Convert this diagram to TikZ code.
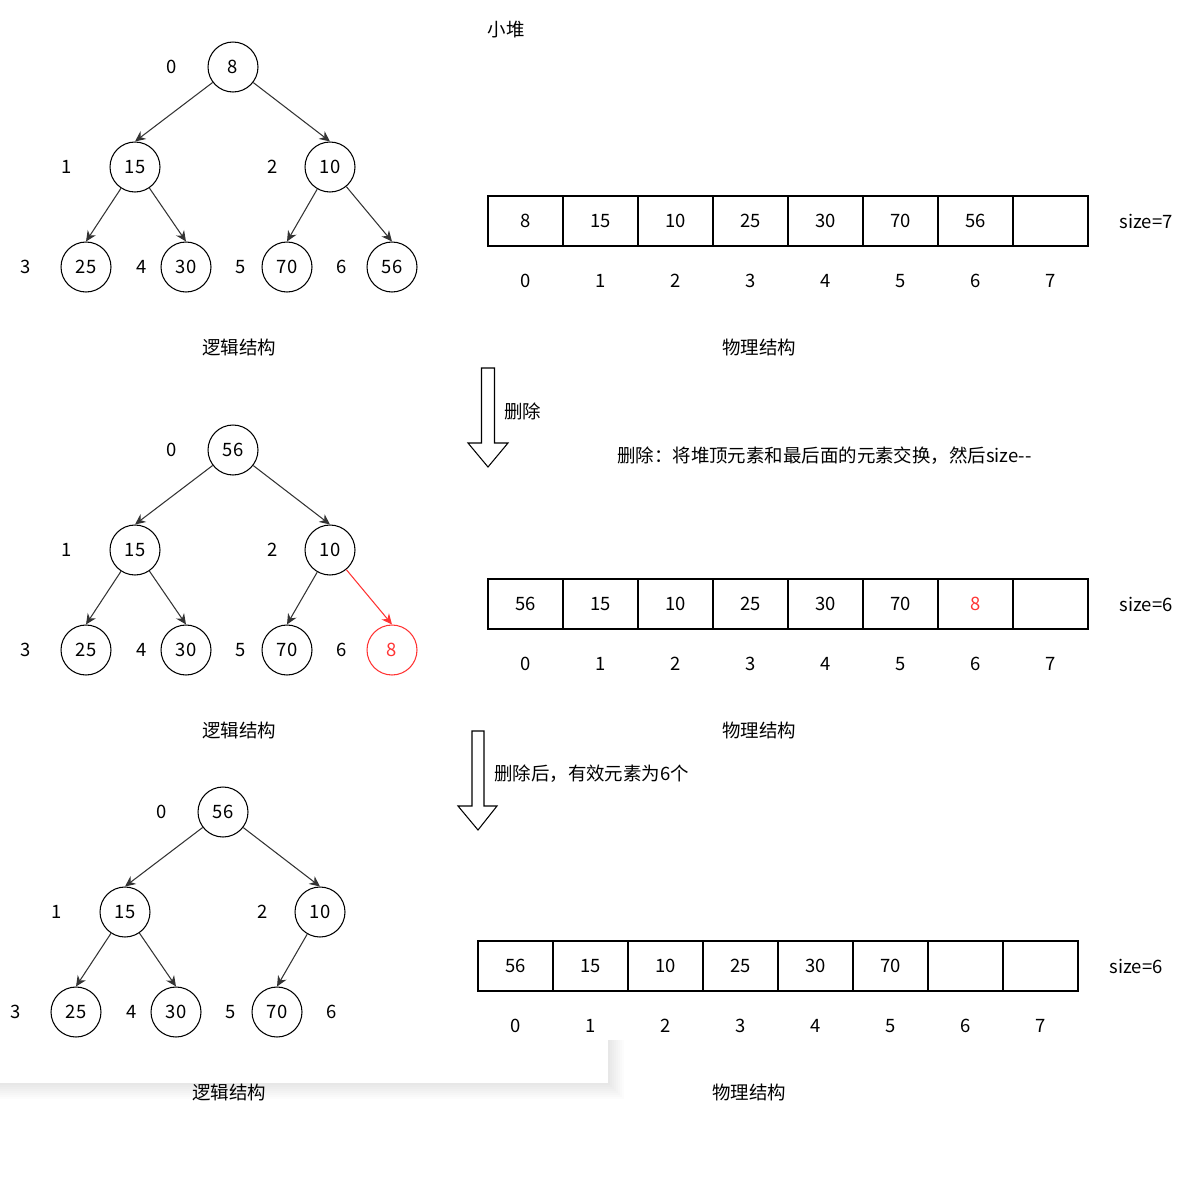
\documentclass[tikz,border=0pt]{standalone}
\usepackage{fontspec}
\setmainfont{Noto Sans CJK SC}
\usetikzlibrary{arrows.meta, positioning}
\definecolor{delred}{HTML}{FF3333}

\begin{document}
\begin{tikzpicture}[x=0.02cm, y=-0.02cm, font=\fontsize{10.5}{12}\selectfont,
    vertex/.style={circle, draw, line width=0.6pt, minimum size=1cm, inner sep=0pt},
    cell/.style={draw, line width=0.6pt, minimum width=1.5cm, minimum height=1cm, inner sep=0pt},
    edge/.style={draw=black!80, line width=0.6pt, -{Stealth[length=6pt, width=5.5pt]}},
    bigarrow/.style={draw, line width=0.6pt, fill=white}]
  \useasboundingbox (0,0) rectangle (1193,1204);

  % shadow of the pasted box, bottom left
  \foreach \k in {2,4,...,16}
    \fill[black, opacity=0.012] (0,1040) rectangle (608+\k,1083+\k);
  \fill[white] (0,990) rectangle (608,1083);

  \node (title) at (506,30) {小堆};

  % ---------- before ----------
  \node[vertex] (r) at (233,67) {8};
  \node[vertex] (a) at (135,167) {15};
  \node[vertex] (b) at (330,167) {10};
  \node[vertex] (c) at (86,267) {25};
  \node[vertex] (d) at (186,267) {30};
  \node[vertex] (e) at (287,267) {70};
  \node[vertex] (f) at (392,267) {56};
  \draw[edge] (r) -- (a.north); \draw[edge] (r) -- (b.north);
  \draw[edge] (a) -- (c.north); \draw[edge] (a) -- (d.north);
  \draw[edge] (b) -- (e.north); \draw[edge] (b) -- (f.north);
  \foreach \i/\x/\y in {0/172/67, 1/67/167, 2/273/167, 3/26/267, 4/142/267, 5/241/267, 6/342/267}
    \node (n\i) at (\x,\y) {\i};
  \node (logic1) at (239,347) {逻辑结构};

  \foreach \v [count=\i from 0] in {8,15,10,25,30,70,56,{}} {
    \node[cell] (p\i) at (525.5+75*\i,221) {\v};
    \node (pi\i) at (p\i) [yshift=-1.2cm] {\i};
  }
  \node (size1) at (1146,221) {size=7};
  \node (phys1) at (759,347) {物理结构};

  \draw[bigarrow] (481.5,368) -- (494.5,368) -- (494.5,443) -- (508,443) -- (488,467)
    -- (468,443) -- (481.5,443) -- cycle;
  \node[anchor=west] (del) at (498,411) {删除};
  \node[anchor=west] (note) at (611,456) {删除：将堆顶元素和最后面的元素交换，然后size{-}{-}};

  % ---------- swapped ----------
  \begin{scope}[shift={(0,383)}, name prefix=s-]
    \node[vertex] (r) at (233,67) {56};
    \node[vertex] (a) at (135,167) {15};
    \node[vertex] (b) at (330,167) {10};
    \node[vertex] (c) at (86,267) {25};
    \node[vertex] (d) at (186,267) {30};
    \node[vertex] (e) at (287,267) {70};
    \node[vertex, draw=delred, text=delred] (f) at (392,267) {8};
    \draw[edge] (r) -- (a.north); \draw[edge] (r) -- (b.north);
    \draw[edge] (a) -- (c.north); \draw[edge] (a) -- (d.north);
    \draw[edge] (b) -- (e.north); \draw[edge, draw=delred] (b) -- (f.north);
    \foreach \i/\x/\y in {0/172/67, 1/67/167, 2/273/167, 3/26/267, 4/142/267, 5/241/267, 6/342/267}
      \node (n\i) at (\x,\y) {\i};
    \node (logic) at (239,347) {逻辑结构};

    \foreach \v [count=\i from 0] in {56,15,10,25,30,70,{\color{delred}8},{}} {
      \node[cell] (p\i) at (525.5+75*\i,221) {\v};
      \node (pi\i) at (p\i) [yshift=-1.2cm] {\i};
    }
    \node (size) at (1146,221) {size=6};
    \node (phys) at (759,347) {物理结构};
  \end{scope}

  \draw[bigarrow] (472,731) -- (484,731) -- (484,806) -- (497,806) -- (478,830)
    -- (458,806) -- (472,806) -- cycle;
  \node[anchor=west] (after) at (488,774) {删除后，有效元素为6个};

  % ---------- after ----------
  \begin{scope}[shift={(-10,745)}, name prefix=t-]
    \node[vertex] (r) at (233,67) {56};
    \node[vertex] (a) at (135,167) {15};
    \node[vertex] (b) at (330,167) {10};
    \node[vertex] (c) at (86,267) {25};
    \node[vertex] (d) at (186,267) {30};
    \node[vertex] (e) at (287,267) {70};
    \draw[edge] (r) -- (a.north); \draw[edge] (r) -- (b.north);
    \draw[edge] (a) -- (c.north); \draw[edge] (a) -- (d.north);
    \draw[edge] (b) -- (e.north);
    \foreach \i/\x/\y in {0/172/67, 1/67/167, 2/273/167, 3/26/267, 4/142/267, 5/241/267, 6/342/267}
      \node (n\i) at (\x,\y) {\i};
    \node (logic) at (239,347) {逻辑结构};

    \foreach \v [count=\i from 0] in {56,15,10,25,30,70,{},{}} {
      \node[cell] (p\i) at (525.5+75*\i,221) {\v};
      \node (pi\i) at (p\i) [yshift=-1.2cm] {\i};
    }
    \node (size) at (1146,221) {size=6};
    \node (phys) at (759,347) {物理结构};
  \end{scope}
\end{tikzpicture}
\end{document}
